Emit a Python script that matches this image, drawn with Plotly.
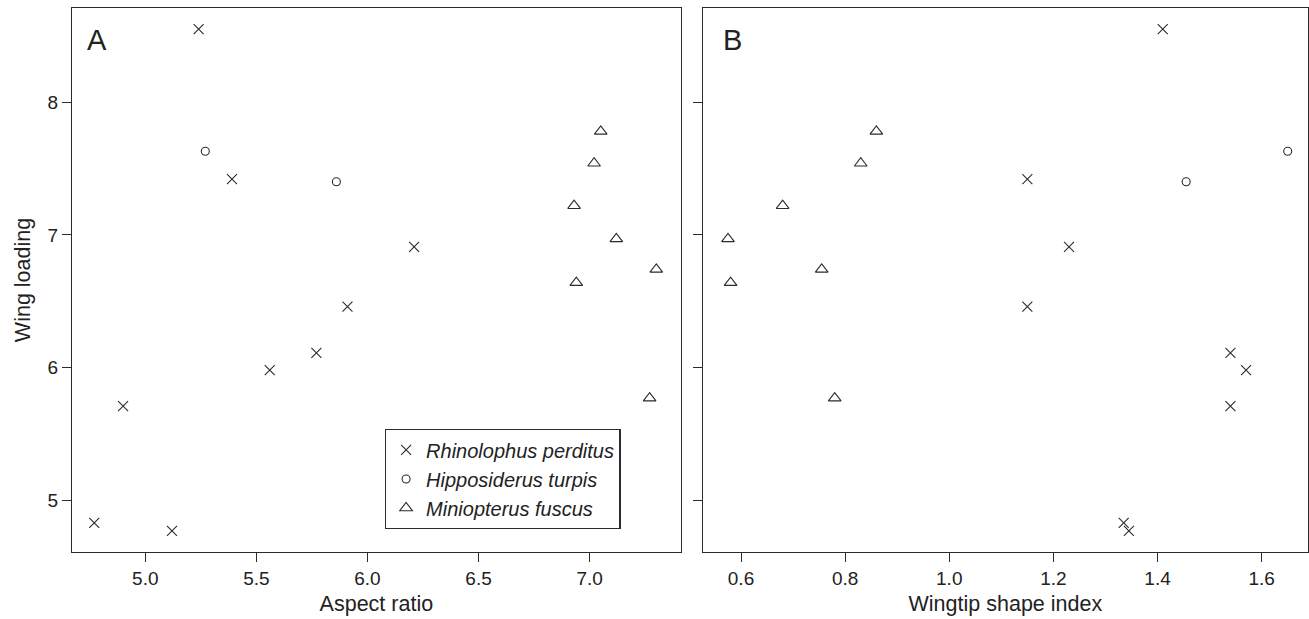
import plotly.graph_objects as go

# ---- data ----
species = ["Rhinolophus perditus", "Hipposiderus turpis", "Miniopterus fuscus"]

rh_aspect = [5.24, 5.39, 6.21, 5.91, 5.77, 5.56, 4.90, 4.77, 5.12]
rh_tip    = [1.41, 1.15, 1.23, 1.15, 1.54, 1.57, 1.54, 1.335, 1.345]
rh_load   = [8.55, 7.42, 6.91, 6.46, 6.11, 5.98, 5.71, 4.83, 4.77]

hi_aspect = [5.27, 5.86]
hi_tip    = [1.65, 1.455]
hi_load   = [7.63, 7.40]

mi_aspect = [7.05, 7.02, 6.93, 7.12, 7.30, 6.94, 7.27]
mi_tip    = [0.86, 0.83, 0.68, 0.575, 0.755, 0.58, 0.78]
mi_load   = [7.78, 7.54, 7.22, 6.97, 6.74, 6.64, 5.77]

x_ticks_a = [5.0, 5.5, 6.0, 6.5, 7.0]
x_ticks_b = [0.6, 0.8, 1.0, 1.2, 1.4, 1.6]
y_ticks = [5, 6, 7, 8]

# ---- style ----
ink = "#2b2b2b"
font = "Liberation Sans, Arial, Helvetica, sans-serif"
symbols = ["x-thin-open", "circle-open", "triangle-up-open"]
sizes = [10, 8, 11]

fig = go.Figure()
groups = [(rh_aspect, rh_tip, rh_load), (hi_aspect, hi_tip, hi_load), (mi_aspect, mi_tip, mi_load)]
for i, (xa, xb, yy) in enumerate(groups):
    mk = dict(symbol=symbols[i], size=sizes[i], color=ink, line=dict(color=ink, width=1.1))
    fig.add_trace(go.Scatter(x=xa, y=yy, mode="markers", marker=mk,
                             name="<i>%s</i>" % species[i], xaxis="x", yaxis="y",
                             showlegend=True))
    fig.add_trace(go.Scatter(x=xb, y=yy, mode="markers", marker=mk,
                             name=species[i], xaxis="x2", yaxis="y2", showlegend=False))

axis_common = dict(showline=True, linecolor=ink, linewidth=1.3, mirror=True,
                   ticks="outside", ticklen=9, tickwidth=1.1, tickcolor=ink,
                   showgrid=False, zeroline=False,
                   tickfont=dict(family=font, size=19, color="#222"))

title_font = dict(family=font, size=21.5, color="#222")

fig.update_layout(
    width=1309, height=619,
    margin=dict(l=72, r=1, t=8, b=67),
    paper_bgcolor="white", plot_bgcolor="white",
    font=dict(family=font, color="#222"),
    xaxis=dict(domain=[0, 0.4925], range=[4.67, 7.41], tickvals=x_ticks_a,
               ticktext=["%.1f" % v for v in x_ticks_a],
               title=dict(text="Aspect ratio", font=title_font, standoff=7),
               anchor="y", **axis_common),
    xaxis2=dict(domain=[0.5103, 1.0], range=[0.5265, 1.689], tickvals=x_ticks_b,
                ticktext=["%.1f" % v for v in x_ticks_b],
                title=dict(text="Wingtip shape index", font=title_font, standoff=7),
                anchor="y2", **axis_common),
    yaxis=dict(domain=[0, 1], range=[4.61, 8.71], tickvals=y_ticks,
               title=dict(text="Wing loading", font=title_font, standoff=10),
               anchor="x", **axis_common),
    yaxis2=dict(domain=[0, 1], range=[4.61, 8.71], tickvals=y_ticks, showticklabels=False,
                anchor="x2", **axis_common),
    legend=dict(x=0.444, xanchor="right", y=0.042, yanchor="bottom",
                xref="paper", yref="paper",
                bgcolor="white", bordercolor=ink, borderwidth=1.3,
                font=dict(family=font, size=20, color="#222"),
                itemwidth=30, tracegroupgap=0),
    annotations=[
        dict(text="A", xref="x domain", yref="y domain", x=0.022, y=0.975,
             xanchor="left", yanchor="top", showarrow=False,
             font=dict(family=font, size=29, color="#222")),
        dict(text="B", xref="x2 domain", yref="y2 domain", x=0.030, y=0.975,
             xanchor="left", yanchor="top", showarrow=False,
             font=dict(family=font, size=29, color="#222")),
    ],
)

fig.write_html("out.html")
